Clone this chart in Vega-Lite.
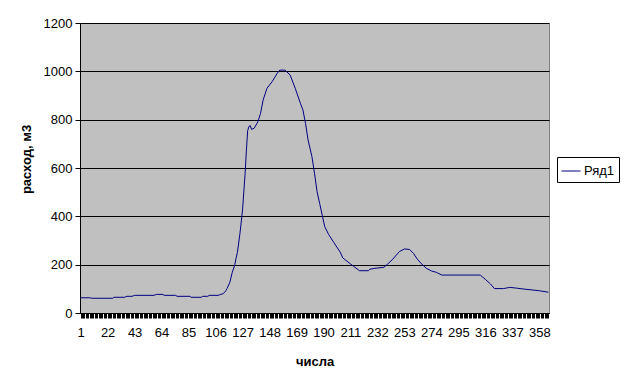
{
  "$schema": "https://vega.github.io/schema/vega-lite/v6.json",
  "autosize": "none",
  "width": 469,
  "height": 290,
  "padding": {"left": 80, "top": 23, "right": 75, "bottom": 73},
  "background": "white",
  "config": {
    "font": "Liberation Sans",
    "view": {"fill": "#c0c0c0", "stroke": "#808080", "strokeWidth": 1}
  },
  "data": {
    "values": [
      {"day": 1, "v": 63}, {"day": 8, "v": 63}, {"day": 10, "v": 61}, {"day": 26, "v": 61},
      {"day": 27, "v": 65}, {"day": 35, "v": 65}, {"day": 37, "v": 69}, {"day": 41, "v": 69},
      {"day": 43, "v": 73}, {"day": 58, "v": 73}, {"day": 60, "v": 77}, {"day": 65, "v": 77},
      {"day": 66, "v": 73}, {"day": 75, "v": 73}, {"day": 76, "v": 69}, {"day": 86, "v": 69},
      {"day": 87, "v": 65}, {"day": 95, "v": 65}, {"day": 96, "v": 69}, {"day": 100, "v": 69},
      {"day": 101, "v": 73}, {"day": 108, "v": 73}, {"day": 110, "v": 77}, {"day": 112, "v": 80},
      {"day": 114, "v": 92}, {"day": 115, "v": 102}, {"day": 117, "v": 125}, {"day": 119, "v": 168},
      {"day": 121, "v": 200}, {"day": 122, "v": 228}, {"day": 123, "v": 250}, {"day": 125, "v": 330},
      {"day": 127, "v": 426}, {"day": 129, "v": 578}, {"day": 130, "v": 674}, {"day": 131, "v": 755},
      {"day": 132, "v": 772}, {"day": 133, "v": 775}, {"day": 134, "v": 760}, {"day": 136, "v": 764},
      {"day": 139, "v": 792}, {"day": 141, "v": 826}, {"day": 143, "v": 881}, {"day": 146, "v": 930},
      {"day": 150, "v": 957}, {"day": 154, "v": 992}, {"day": 156, "v": 1005}, {"day": 160, "v": 1005},
      {"day": 164, "v": 985}, {"day": 168, "v": 930}, {"day": 172, "v": 868}, {"day": 174, "v": 840},
      {"day": 176, "v": 785}, {"day": 178, "v": 716}, {"day": 181, "v": 647}, {"day": 183, "v": 578},
      {"day": 185, "v": 502}, {"day": 187, "v": 454}, {"day": 189, "v": 405}, {"day": 191, "v": 357},
      {"day": 194, "v": 325}, {"day": 198, "v": 292}, {"day": 203, "v": 252}, {"day": 205, "v": 228},
      {"day": 211, "v": 203}, {"day": 218, "v": 175}, {"day": 225, "v": 175}, {"day": 226, "v": 181},
      {"day": 230, "v": 185}, {"day": 237, "v": 189}, {"day": 240, "v": 203}, {"day": 244, "v": 223},
      {"day": 249, "v": 254}, {"day": 253, "v": 265}, {"day": 257, "v": 263}, {"day": 260, "v": 247},
      {"day": 263, "v": 223}, {"day": 266, "v": 205}, {"day": 270, "v": 185}, {"day": 274, "v": 174},
      {"day": 278, "v": 168}, {"day": 282, "v": 157}, {"day": 312, "v": 157}, {"day": 316, "v": 139},
      {"day": 320, "v": 120}, {"day": 323, "v": 101}, {"day": 330, "v": 101}, {"day": 335, "v": 106},
      {"day": 340, "v": 103}, {"day": 346, "v": 99}, {"day": 353, "v": 95}, {"day": 358, "v": 92},
      {"day": 365, "v": 86}
    ]
  },
  "mark": {"type": "line", "strokeWidth": 1, "interpolate": "linear"},
  "encoding": {
    "x": {
      "field": "day",
      "type": "quantitative",
      "scale": {"domain": [0.5, 365.5], "nice": false, "zero": false},
      "axis": {
        "title": "числа",
        "titleFont": "Liberation Sans",
        "titleFontSize": 13,
        "titleFontWeight": "bold",
        "titleColor": "black",
        "titleBaseline": "alphabetic",
        "titleY": 52,
        "values": [1,2,3,4,5,6,7,8,9,10,11,12,13,14,15,16,17,18,19,20,21,22,23,24,25,26,27,28,29,30,31,32,33,34,35,36,37,38,39,40,41,42,43,44,45,46,47,48,49,50,51,52,53,54,55,56,57,58,59,60,61,62,63,64,65,66,67,68,69,70,71,72,73,74,75,76,77,78,79,80,81,82,83,84,85,86,87,88,89,90,91,92,93,94,95,96,97,98,99,100,101,102,103,104,105,106,107,108,109,110,111,112,113,114,115,116,117,118,119,120,121,122,123,124,125,126,127,128,129,130,131,132,133,134,135,136,137,138,139,140,141,142,143,144,145,146,147,148,149,150,151,152,153,154,155,156,157,158,159,160,161,162,163,164,165,166,167,168,169,170,171,172,173,174,175,176,177,178,179,180,181,182,183,184,185,186,187,188,189,190,191,192,193,194,195,196,197,198,199,200,201,202,203,204,205,206,207,208,209,210,211,212,213,214,215,216,217,218,219,220,221,222,223,224,225,226,227,228,229,230,231,232,233,234,235,236,237,238,239,240,241,242,243,244,245,246,247,248,249,250,251,252,253,254,255,256,257,258,259,260,261,262,263,264,265,266,267,268,269,270,271,272,273,274,275,276,277,278,279,280,281,282,283,284,285,286,287,288,289,290,291,292,293,294,295,296,297,298,299,300,301,302,303,304,305,306,307,308,309,310,311,312,313,314,315,316,317,318,319,320,321,322,323,324,325,326,327,328,329,330,331,332,333,334,335,336,337,338,339,340,341,342,343,344,345,346,347,348,349,350,351,352,353,354,355,356,357,358,359,360,361,362,363,364,365],
        "format": "d",
        "labelExpr": "(datum.value - 1) % 21 === 0 ? datum.label : ''",
        "labelOverlap": false,
        "labelFlush": false,
        "labelBound": false,
        "labelFont": "Liberation Sans",
        "labelFontSize": 13,
        "labelColor": "black",
        "labelPadding": 8,
        "ticks": true,
        "tickSize": 5,
        "tickColor": "black",
        "tickOpacity": 1,
        "tickWidth": 1,
        "domainColor": "black",
        "domainWidth": 1,
        "grid": false
      }
    },
    "y": {
      "field": "v",
      "type": "quantitative",
      "scale": {"domain": [0, 1200], "nice": false},
      "axis": {
        "title": "расход, м3",
        "titleFont": "Liberation Sans",
        "titleFontSize": 13,
        "titleFontWeight": "bold",
        "titleColor": "black",
        "titleBaseline": "alphabetic",
        "titleX": -50,
        "titleY": 136,
        "values": [0, 200, 400, 600, 800, 1000, 1200],
        "format": "d",
        "labelFont": "Liberation Sans",
        "labelFontSize": 13,
        "labelColor": "black",
        "labelPadding": 3,
        "ticks": true,
        "tickSize": 5,
        "tickColor": "black",
        "domainColor": "black",
        "grid": true,
        "gridColor": "black",
        "gridWidth": 1,
        "gridOpacity": 1
      }
    },
    "color": {
      "datum": "Ряд1",
      "type": "nominal",
      "scale": {"range": ["#000080"]},
      "legend": {
        "title": null,
        "orient": "none",
        "legendX": 477,
        "legendY": 134,
        "symbolType": "stroke",
        "symbolSize": 361,
        "symbolStrokeWidth": 1,
        "labelFont": "Liberation Sans",
        "labelFontSize": 13,
        "labelColor": "black",
        "labelOffset": 3,
        "padding": 4,
        "strokeColor": "black",
        "fillColor": "white"
      }
    }
  }
}
